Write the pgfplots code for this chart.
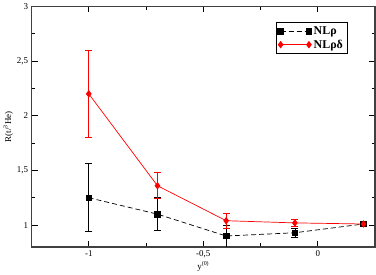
\documentclass[border=0pt]{standalone}
\usepackage{pgfplots}
\pgfplotsset{compat=1.18}
\usepackage{fontspec}
\setmainfont{Liberation Serif}
\begin{document}
\begin{tikzpicture}
\begin{axis}[
  name=ax, at={(0,0)}, anchor=south west,
  scale only axis, width=344bp, height=241bp,
  xmin=-1.25, xmax=0.25, ymin=0.8, ymax=3,
  xtick={-1,-0.5,0}, minor x tick num=1,
  ytick={1,1.5,2,2.5,3}, minor y tick num=1,
  tick align=inside, major tick length=6bp, minor tick length=3.5bp,
  axis line style={black!75, line width=1.2bp},
  tick style={black, line width=0.6bp},
  /pgf/number format/assume math mode=true,
  /pgf/number format/use comma,
  ticklabel style={font=\fontsize{9}{10}\selectfont},
  xlabel={y\textsuperscript{(0)}},
  ylabel={R(t/\textsuperscript{3}He)},
  label style={font=\fontsize{9}{10}\selectfont},
  xlabel style={yshift=3bp},
  ylabel style={yshift=-3bp},
  legend style={at={(0.919,0.934)}, anchor=north east, draw=black, line width=0.6bp,
    font=\fontsize{12}{13}\selectfont\bfseries, inner sep=2bp, row sep=0bp},
  legend cell align=left,
  legend image code/.code={\draw[mark repeat=2, mark phase=1, #1] plot coordinates {(0cm,0cm) (0.5cm,0cm) (1cm,0cm)};},
]
\addplot[black, dash pattern=on 5bp off 3bp, line width=0.7bp, mark=square*, mark size=2.8bp, mark options={solid},
  error bars/.cd, y dir=both, y explicit, error mark options={rotate=90, mark size=3.5bp, solid, line width=0.7bp},
  error bar style={solid, line width=0.7bp}]
  coordinates {
  (-1,1.25) +- (0,0.31)
  (-0.7,1.10) +- (0,0.15)
  (-0.4,0.90) +- (0,0.10)
  (-0.1,0.93) +- (0,0.04)
  (0.2,1.01) +- (0,0.02)
  };
\addlegendentry{NLρ}
\addplot[red, solid, line width=0.7bp, mark=diamond*, mark size=3.2bp,
  error bars/.cd, y dir=both, y explicit, error mark options={rotate=90, mark size=3.5bp, line width=0.7bp},
  error bar style={line width=0.7bp}]
  coordinates {
  (-1,2.20) +- (0,0.40)
  (-0.7,1.36) +- (0,0.12)
  (-0.4,1.04) +- (0,0.07)
  (-0.1,1.02) +- (0,0.03)
  (0.2,1.01) +- (0,0.02)
  };
\addlegendentry{NLρδ}
\end{axis}
\useasboundingbox ([shift={(-31bp,-28bp)}]ax.south west) rectangle ([shift={(1bp,4bp)}]ax.north east);
\end{tikzpicture}
\end{document}
